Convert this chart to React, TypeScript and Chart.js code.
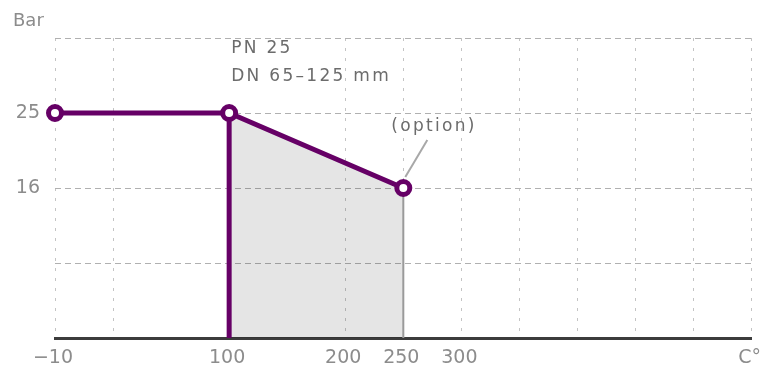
import React, { useEffect, useRef } from 'react';
import { Chart, registerables } from 'chart.js';

Chart.register(...registerables);

// ---- axis design (schematic, non-linear temperature axis) ----
const tempTicks = [-10, 100, 200, 250, 300];
const tempSlots = [0, 3, 5, 6, 7];
const xTickLabels = ['−10', '100', '200', '250', '300', 'C°'];
const xTickLabelSlots = [0, 3, 5, 6, 7, 12];
const xSlotMax = 12;
const xHiddenGridSlots = [2, 3, 4];

const pressureTicks = [0, 16, 25];
const pressureSlots = [0, 2, 3];
const yTickLabels = ['16', '25'];
const yTickLabelSlots = [2, 3];
const ySlotMax = 4;
const yAxisTitle = 'Bar';

// ---- data ----
const temps = [-10, 100, 250];
const pressures = [25, 25, 16];
const shadedTemps = [100, 250];
const shadedPressures = [25, 16];
const basePressure = 0;
const noteLines = ['PN 25', 'DN 65–125 mm'];
const optionNote = '(option)';

const PURPLE = '#660066';

function interp(v: number, from: number[], to: number[]): number {
  if (v <= from[0]) return to[0] + (v - from[0]) * (to[1] - to[0]) / (from[1] - from[0]);
  for (let i = 1; i < from.length; i++) {
    if (v <= from[i]) {
      return to[i - 1] + (v - from[i - 1]) * (to[i] - to[i - 1]) / (from[i] - from[i - 1]);
    }
  }
  const n = from.length - 1;
  return to[n] + (v - from[n]) * (to[n] - to[n - 1]) / (from[n] - from[n - 1]);
}
const tx = (t: number) => interp(t, tempTicks, tempSlots);
const py = (p: number) => interp(p, pressureTicks, pressureSlots);

const annotations = {
  id: 'annotations',
  beforeDatasetsDraw(chart: any) {
    const { ctx, scales } = chart;
    const px = scales.x.getPixelForValue(tx(temps[2]));
    const pyy = scales.y.getPixelForValue(py(pressures[2]));
    ctx.save();
    ctx.strokeStyle = '#a8a8a8';
    ctx.lineWidth = 2;
    ctx.beginPath();
    ctx.moveTo(px + 2, pyy - 11);
    ctx.lineTo(px + 24, pyy - 48);
    ctx.stroke();
    ctx.restore();
  },
  afterDraw(chart: any) {
    const { ctx, scales } = chart;
    ctx.save();
    ctx.fillStyle = '#8c8c8c';
    ctx.font = '18px "DejaVu Sans"';
    ctx.textAlign = 'left';
    ctx.textBaseline = 'alphabetic';
    ctx.fillText(yAxisTitle, 13, 26);

    ctx.fillStyle = '#6c6c6c';
    ctx.font = '17px "DejaVu Sans"';
    try { (ctx as any).letterSpacing = '2.3px'; } catch (e) {}
    const ax = scales.x.getPixelForValue(tx(temps[1]));
    const ay = scales.y.getPixelForValue(py(pressures[1]));
    ctx.fillText(noteLines[0], ax + 2, ay - 60);
    ctx.fillText(noteLines[1], ax + 2, ay - 32);
    const bx = scales.x.getPixelForValue(tx(temps[2]));
    const by = scales.y.getPixelForValue(py(pressures[2]));
    ctx.fillText(optionNote, bx - 12, by - 57);
    try { (ctx as any).letterSpacing = '0px'; } catch (e) {}
    ctx.restore();
  },
};

export default function App() {
  const ref = useRef<HTMLCanvasElement | null>(null);
  useEffect(() => {
    if (!ref.current) return;
    const chart = new Chart(ref.current, {
      type: 'line',
      data: {
        datasets: [
          {
            label: 'rating',
            data: temps.map((t, i) => ({ x: tx(t), y: py(pressures[i]) })),
            borderColor: PURPLE,
            borderWidth: 5,
            pointRadius: 6.5,
            pointBorderWidth: 5,
            pointBackgroundColor: '#ffffff',
            pointBorderColor: PURPLE,
            fill: false,
            clip: false as any,
            order: 0,
          },
          {
            label: 'limit-100',
            data: [
              { x: tx(temps[1]), y: py(basePressure) },
              { x: tx(temps[1]), y: py(pressures[1]) },
            ],
            borderColor: PURPLE,
            borderWidth: 5,
            pointRadius: 0,
            fill: false,
            clip: false as any,
            order: 1,
          },
          {
            label: 'limit-250',
            data: [
              { x: tx(temps[2]), y: py(basePressure) },
              { x: tx(temps[2]), y: py(pressures[2]) },
            ],
            borderColor: '#9a9a9a',
            borderWidth: 2,
            pointRadius: 0,
            fill: false,
            order: 2,
          },
          {
            label: 'area',
            data: shadedTemps.map((t, i) => ({ x: tx(t), y: py(shadedPressures[i]) })),
            borderWidth: 0,
            borderColor: 'rgba(0,0,0,0)',
            backgroundColor: 'rgba(0,0,0,0.1)',
            pointRadius: 0,
            fill: 'origin',
            order: 3,
          },
        ],
      },
      options: {
        animation: false,
        responsive: false,
        maintainAspectRatio: false,
        layout: { padding: { top: 38, right: 19, left: 0, bottom: 0 } },
        plugins: {
          legend: { display: false },
          tooltip: { enabled: false },
        },
        scales: {
          x: {
            type: 'linear',
            min: 0,
            max: xSlotMax,
            afterFit: (s: any) => { s.height = 31; },
            afterBuildTicks: (s: any) => {
              s.ticks = Array.from({ length: xSlotMax + 1 }, (_, i) => ({ value: i }));
            },
            ticks: {
              autoSkip: false,
              maxRotation: 0,
              padding: 9,
              labelOffset: -2,
              color: '#8c8c8c',
              font: { family: 'DejaVu Sans', size: 19 },
              callback: (v: any) => {
                const k = xTickLabelSlots.indexOf(Number(v));
                return k >= 0 ? xTickLabels[k] : '';
              },
            },
            grid: {
              drawTicks: false,
              lineWidth: 1,
              color: (c: any) =>
                xHiddenGridSlots.includes(c.tick?.value) ? 'rgba(0,0,0,0)' : '#c4c4c4',
            },
            border: { display: true, color: '#3c3c3c', width: 3, dash: [3, 7] },
          },
          y: {
            type: 'linear',
            min: 0,
            max: ySlotMax,
            afterFit: (s: any) => { s.width = 55; },
            afterBuildTicks: (s: any) => {
              s.ticks = Array.from({ length: ySlotMax + 1 }, (_, i) => ({ value: i }));
            },
            ticks: {
              padding: 15,
              color: '#8c8c8c',
              font: { family: 'DejaVu Sans', size: 19 },
              callback: (v: any) => {
                const k = yTickLabelSlots.indexOf(Number(v));
                return k >= 0 ? yTickLabels[k] : '';
              },
            },
            grid: { drawTicks: false, lineWidth: 1, color: '#b0b0b0' },
            border: { display: false, dash: [6, 4] },
          },
        },
      },
      plugins: [annotations],
    });
    return () => chart.destroy();
  }, []);
  return (
    <div style={{ position: 'fixed', left: 0, top: 0, width: 772, height: 369, background: '#fff' }}>
      <canvas ref={ref} width={772} height={369} />
    </div>
  );
}
